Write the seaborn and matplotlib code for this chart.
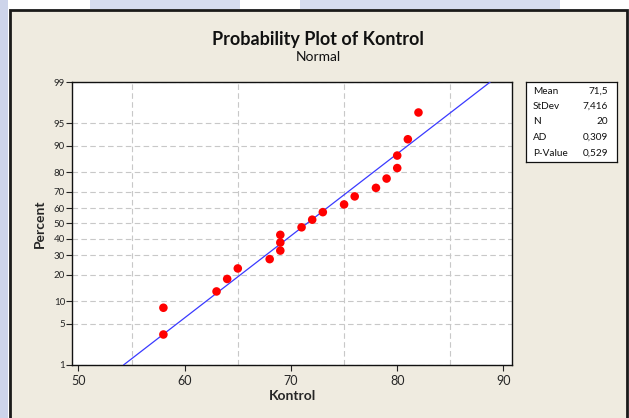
import matplotlib
matplotlib.use("Agg")
import matplotlib.pyplot as plt
import seaborn as sns
import pandas as pd
import numpy as np
from statistics import NormalDist
from matplotlib.patches import Rectangle

# values
kontrol = [58, 58, 63, 64, 65, 68, 69, 69, 69, 71,
           72, 73, 75, 76, 78, 79, 80, 80, 81, 82]
percent = [3.4, 8.3, 13.2, 18.1, 23.0, 27.9, 32.8, 37.7, 42.6, 47.5,
           52.5, 57.4, 62.3, 67.2, 72.1, 77.0, 81.9, 86.8, 91.7, 96.6]
pct_ticks = [1, 5, 10, 20, 30, 40, 50, 60, 70, 80, 90, 95, 99]
x_ticks = [50, 60, 70, 80, 90]
x_grid = [50, 55, 60, 65, 70, 75, 80, 85, 90]
stat_names = ["Mean", "StDev", "N", "AD", "P-Value"]
stat_values = ["71,5", "7,416", "20", "0,309", "0,529"]
mean, stdev = 71.5, 7.416

nd = NormalDist()
def z(p):
    return np.array([nd.inv_cdf(v / 100.0) for v in np.atleast_1d(p)])

df = pd.DataFrame({"Kontrol": kontrol, "z": z(percent)})
fit = pd.DataFrame({"z": z([1, 99])})
fit["Kontrol"] = mean + stdev * fit["z"]

sns.set_style("white")
plt.rcParams["font.family"] = ["Lato", "DejaVu Sans"]

W, H = 629, 418
fig = plt.figure(figsize=(W / 100, H / 100), dpi=100, facecolor="white")

def fx(px):
    return px / W
def fy(py):
    return 1 - py / H

# faint watermark strip + panel background with frame
fig.patches.append(Rectangle((0, 0), fx(8), 1, transform=fig.transFigure,
                             facecolor="#cdd4ea", edgecolor="none", zorder=-3))
fig.patches.append(Rectangle((fx(90), fy(9)), fx(150), 9 / H, transform=fig.transFigure,
                             facecolor="#d6dcee", edgecolor="none", zorder=-3))
fig.patches.append(Rectangle((fx(300), fy(9)), fx(260), 9 / H, transform=fig.transFigure,
                             facecolor="#d6dcee", edgecolor="none", zorder=-3))
fig.patches.append(Rectangle((fx(10), -0.01), fx(617), fy(10) + 0.01, transform=fig.transFigure,
                             facecolor="#efebe0", edgecolor="#1a1a1a", linewidth=2.0, zorder=-2))

ax = fig.add_axes([fx(72), fy(365), fx(512) - fx(72), fy(82) - fy(365)])
ax.set_facecolor("white")

sns.lineplot(data=fit, x="Kontrol", y="z", color="#3a3aff", linewidth=0.9,
             ax=ax, zorder=3, sort=False)
sns.scatterplot(data=df, x="Kontrol", y="z", color="#ff0000", s=38,
                edgecolor="none", ax=ax, zorder=4)

ax.set_xlim(49.4, 90.8)
ax.set_ylim(z([1])[0], z([99])[0])

ax.set_xticks(x_ticks)
ax.set_xticklabels([str(t) for t in x_ticks], fontsize=9)
ax.set_xticks(x_grid, minor=True)
ax.set_yticks(z(pct_ticks))
ax.set_yticklabels([str(t) for t in pct_ticks], fontsize=7)
ax.tick_params(axis="x", which="major", length=4, width=0.8, color="#222222", pad=3)
ax.tick_params(axis="x", which="minor", length=0)
ax.tick_params(axis="y", length=4, width=0.8, color="#222222", pad=1)
ax.tick_params(left=True, bottom=True)

ax.grid(True, axis="x", which="minor", color="#c8c8c8", linestyle=(0, (5, 3)), linewidth=0.8)
ax.grid(True, axis="y", which="major", color="#c8c8c8", linestyle=(0, (5, 3)), linewidth=0.8)
ax.set_axisbelow(True)
for sp in ax.spines.values():
    sp.set_color("#111111")
    sp.set_linewidth(1.0)

ax.set_xlabel("Kontrol", fontsize=10, fontweight="bold", labelpad=2)
ax.set_ylabel("Percent", fontsize=10, fontweight="bold", labelpad=6)

fig.text(fx(318), fy(40), "Probability Plot of Kontrol", ha="center", va="center",
         fontsize=13, fontweight="bold", color="#111111")
fig.text(fx(318), fy(57), "Normal", ha="center", va="center", fontsize=10, color="#111111")

# stats box
bx = fig.add_axes([fx(526), fy(162), fx(617) - fx(526), fy(82) - fy(162)])
bx.set_xlim(526, 617)
bx.set_ylim(162, 82)
bx.set_xticks([])
bx.set_yticks([])
bx.set_facecolor("white")
for sp in bx.spines.values():
    sp.set_color("#111111")
    sp.set_linewidth(0.9)
row_y = [91, 106.5, 122, 137.5, 153]
for name, val, yy in zip(stat_names, stat_values, row_y):
    bx.text(533, yy, name, ha="left", va="center", fontsize=7.2, color="#111111")
    bx.text(608, yy, val, ha="right", va="center", fontsize=7.2, color="#111111")

fig.savefig("out.png", dpi=100, facecolor=fig.get_facecolor())
